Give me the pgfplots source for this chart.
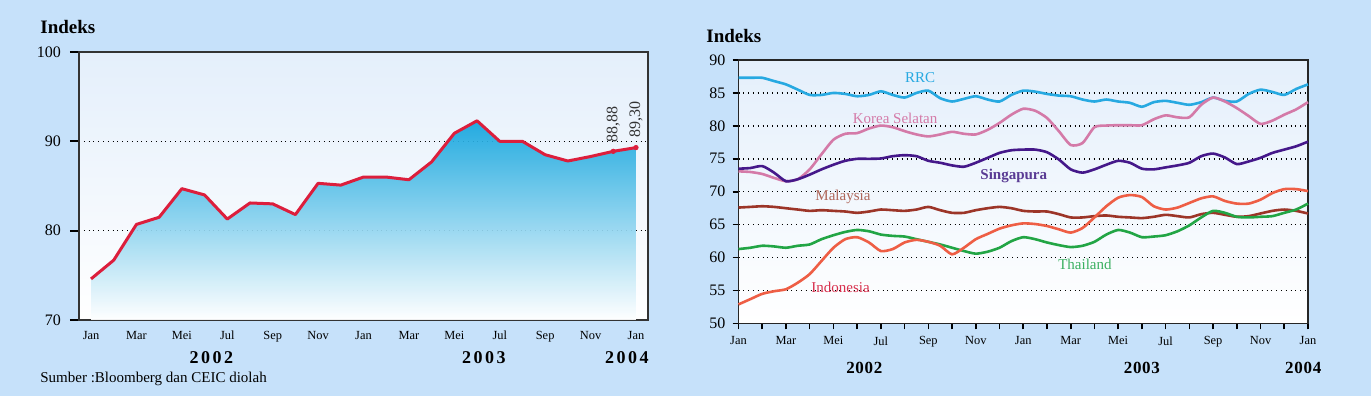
\documentclass[border=0pt]{standalone}
\usepackage{fontspec}
\setmainfont{Liberation Serif}
\newfontfamily\yearfont[LetterSpace=14]{Liberation Serif}
\newfontfamily\yearfontb[LetterSpace=4]{Liberation Serif}
\usepackage{pgfplots}
\usepackage{pgfplotstable}
\pgfplotsset{compat=1.18}
\definecolor{bg}{HTML}{C6E1FA}
\definecolor{axbg}{HTML}{E4EFFB}
\definecolor{idxred}{HTML}{DC1E3C}
\definecolor{fillblue}{HTML}{12A5DE}
\definecolor{rrc}{HTML}{27A9E1}
\definecolor{kor}{HTML}{D47AA8}
\definecolor{sgp}{HTML}{45188A}
\definecolor{mys}{HTML}{9C3528}
\definecolor{tha}{HTML}{22A545}
\definecolor{idn}{HTML}{EE5E45}
\definecolor{idnlab}{HTML}{D8304E}
\definecolor{myslab}{HTML}{B0675A}
\definecolor{sgplab}{HTML}{5A3B94}
\definecolor{thalab}{HTML}{3BB061}

\pgfplotstableread{
x y
0 74.6
1 76.7
2 80.7
3 81.5
4 84.7
5 84.0
6 81.3
7 83.1
8 83.0
9 81.8
10 85.3
11 85.1
12 86.0
13 86.0
14 85.7
15 87.7
16 90.9
17 92.3
18 90.0
19 90.0
20 88.5
21 87.8
22 88.3
23 88.88
24 89.30
}\composite

\pgfplotstableread{
x rrc kor sgp mys tha idn
0 87.3 73.1 73.5 67.6 61.3 52.9
0.5 87.3 73.0 73.6 67.7 61.5 53.7
1 87.3 72.7 73.9 67.8 61.8 54.5
1.5 86.8 72.1 72.9 67.7 61.7 54.9
2 86.3 71.6 71.6 67.5 61.5 55.2
2.5 85.5 71.9 71.9 67.3 61.8 56.2
3 84.7 73.4 72.6 67.1 62.0 57.5
3.5 84.7 75.7 73.4 67.2 62.8 59.5
4 85.0 77.9 74.1 67.1 63.4 61.5
4.5 84.85 78.8 74.7 67.0 63.9 62.8
5 84.5 78.9 75.0 66.8 64.2 63.1
5.5 84.7 79.6 75.0 67.0 64.0 62.3
6 85.25 80.05 75.05 67.3 63.5 61.0
6.5 84.7 79.8 75.4 67.2 63.3 61.3
7 84.3 79.2 75.55 67.1 63.2 62.3
7.5 85.0 78.7 75.4 67.3 62.8 62.7
8 85.35 78.4 74.7 67.7 62.4 62.4
8.5 84.2 78.7 74.4 67.2 62.0 61.8
9 83.7 79.1 74.0 66.8 61.5 60.5
9.5 84.1 78.8 73.8 66.8 61.0 61.5
10 84.5 78.7 74.4 67.2 60.6 62.8
10.5 84.0 79.4 75.15 67.5 60.9 63.6
11 83.7 80.45 75.9 67.7 61.5 64.4
11.5 84.7 81.7 76.3 67.5 62.5 64.9
12 85.35 82.6 76.4 67.1 63.1 65.2
12.5 85.2 82.3 76.4 67.0 62.8 65.1
13 84.85 81.2 76.0 67.0 62.3 64.8
13.5 84.6 79.2 74.9 66.6 61.9 64.3
14 84.5 77.1 73.4 66.1 61.6 63.8
14.5 84.0 77.4 72.9 66.1 61.8 64.5
15 83.7 79.8 73.4 66.3 62.4 66.1
15.5 84.0 80.05 74.1 66.4 63.5 67.8
16 83.7 80.1 74.7 66.2 64.2 69.1
16.5 83.5 80.1 74.4 66.1 63.8 69.5
17 82.9 80.1 73.5 66.0 63.1 69.2
17.5 83.6 81.0 73.4 66.2 63.2 67.8
18 83.8 81.6 73.7 66.5 63.4 67.3
18.5 83.5 81.3 74.0 66.3 64.0 67.6
19 83.2 81.3 74.4 66.1 64.9 68.3
19.5 83.6 83.2 75.4 66.6 66.1 69.0
20 84.3 84.3 75.8 66.8 67.1 69.3
20.5 83.8 83.7 75.2 66.5 66.8 68.6
21 83.7 82.7 74.2 66.2 66.2 68.2
21.5 84.85 81.5 74.6 66.3 66.1 68.2
22 85.5 80.3 75.15 66.7 66.2 68.8
22.5 85.15 80.8 75.9 67.1 66.3 69.8
23 84.7 81.7 76.4 67.3 66.8 70.4
23.5 85.6 82.5 76.9 67.1 67.3 70.4
24 86.3 83.6 77.6 66.7 68.2 70.1
}\asia

\begin{document}
\begin{tikzpicture}
\useasboundingbox (0,0) rectangle (685.5pt,198pt);
\fill[bg] (0,0) rectangle (685.5pt,198pt);

\node[anchor=base west, font=\fontsize{9.5}{10}\selectfont\bfseries, inner sep=0pt] at (20pt,181pt) {Indeks};
\node[anchor=base west, font=\fontsize{7.5}{8}\selectfont, inner sep=0pt] at (20pt,6.5pt) {Sumber :Bloomberg dan CEIC diolah};
\node[anchor=base west, font=\fontsize{9.5}{10}\selectfont\bfseries, inner sep=0pt] at (353pt,176.5pt) {Indeks};

% ---------- left chart ----------
\begin{axis}[
  at={(39.5pt,38pt)}, anchor=south west, scale only axis,
  width=284.5pt, height=134pt,
  xmin=-0.53, xmax=24.53, ymin=70, ymax=100,
  ytick={70,80,90,100},
  xtick={0,2,...,24},
  xticklabels={Jan,Mar,Mei,Jul,Sep,Nov,Jan,Mar,Mei,Jul,Sep,Nov,Jan},
  /pgf/number format/assume math mode=true,
  y tick label style={font=\fontsize{8}{9}\selectfont, xshift=-1pt},
  x tick label style={font=\fontsize{6.2}{7}\selectfont, yshift=2.5pt},
  axis line style={line width=1pt, black!80},
  ymajorgrids, grid style={dotted, black, line width=0.7pt},
  tick pos=left, tick align=outside, major tick length=4.5pt,
  xtick style={draw=none}, ytick style={line width=1pt, black},
  axis background/.style={shade, top color=axbg, bottom color=white},
  clip=false,
]
\addplot[draw=none, fill opacity=0.92, shade, top color=fillblue, bottom color=white] table[x=x,y=y] {\composite} \closedcycle;
\addplot[idxred, line width=1.5pt, line join=round] table[x=x,y=y] {\composite};
\addplot[idxred, only marks, mark=*, mark size=1.1pt] coordinates {(23,88.88) (24,89.30)};
\node[rotate=90, anchor=west, inner sep=4pt, font=\fontsize{8}{9}\selectfont, text=black!80] at (axis cs:23,88.88) {88,88};
\node[rotate=90, anchor=west, inner sep=5pt, font=\fontsize{8}{9}\selectfont, text=black!80] at (axis cs:24,89.30) {89,30};
\node[font=\fontsize{9}{10}\selectfont\yearfont\bfseries] at (axis cs:5.3,70) [yshift=-19pt] {2002};
\node[font=\fontsize{9}{10}\selectfont\yearfont\bfseries] at (axis cs:17.3,70) [yshift=-19pt] {2003};
\node[font=\fontsize{9}{10}\selectfont\yearfont\bfseries] at (axis cs:23.6,70) [yshift=-19pt] {2004};
\end{axis}

% ---------- right chart ----------
\begin{axis}[
  at={(369.25pt,36.25pt)}, anchor=south west, scale only axis,
  width=284.75pt, height=131.75pt,
  xmin=0, xmax=24, ymin=50, ymax=90,
  ytick={50,55,...,90},
  xtick={0,2,...,24},
  minor xtick={1,3,...,23},
  xticklabels={Jan,Mar,Mei,Jul,Sep,Nov,Jan,Mar,Mei,Jul,Sep,Nov,Jan},
  /pgf/number format/assume math mode=true,
  y tick label style={font=\fontsize{8}{9}\selectfont},
  x tick label style={font=\fontsize{6.2}{7}\selectfont},
  axis line style={line width=0.8pt, black!85},
  ymajorgrids, grid style={dotted, black, line width=0.7pt},
  minor grid style={draw=none},
  tick pos=left, tick align=outside, major tick length=3pt, minor tick length=3pt,
  tick style={line width=0.8pt, black},
  axis background/.style={shade, top color=axbg, bottom color=white},
  clip=false,
]
\addplot[rrc, line width=1.3pt, smooth, tension=0.4] table[x=x,y=rrc] {\asia};
\addplot[kor, line width=1.3pt, smooth, tension=0.4] table[x=x,y=kor] {\asia};
\addplot[sgp, line width=1.3pt, smooth, tension=0.4] table[x=x,y=sgp] {\asia};
\addplot[mys, line width=1.3pt, smooth, tension=0.4] table[x=x,y=mys] {\asia};
\addplot[tha, line width=1.3pt, smooth, tension=0.4] table[x=x,y=tha] {\asia};
\addplot[idn, line width=1.3pt, smooth, tension=0.4] table[x=x,y=idn] {\asia};
\node[text=rrc, font=\fontsize{7.5}{8}\selectfont] at (axis cs:7.65,87.4) {RRC};
\node[text=kor, font=\fontsize{7.5}{8}\selectfont] at (axis cs:6.6,81.1) {Korea Selatan};
\node[text=sgplab, font=\fontsize{7.5}{8}\selectfont\bfseries] at (axis cs:11.6,72.4) {Singapura};
\node[text=myslab, font=\fontsize{7.5}{8}\selectfont] at (axis cs:4.4,69.2) {Malaysia};
\node[text=thalab, font=\fontsize{7.5}{8}\selectfont] at (axis cs:14.6,59.0) {Thailand};
\node[text=idnlab, font=\fontsize{7.5}{8}\selectfont] at (axis cs:4.3,55.5) {Indonesia};
\node[font=\fontsize{8.5}{9}\selectfont\yearfontb\bfseries] at (axis cs:5.3,50) [yshift=-22pt] {2002};
\node[font=\fontsize{8.5}{9}\selectfont\yearfontb\bfseries] at (axis cs:17.0,50) [yshift=-22pt] {2003};
\node[font=\fontsize{8.5}{9}\selectfont\yearfontb\bfseries] at (axis cs:23.8,50) [yshift=-22pt] {2004};
\end{axis}
\end{tikzpicture}
\end{document}
